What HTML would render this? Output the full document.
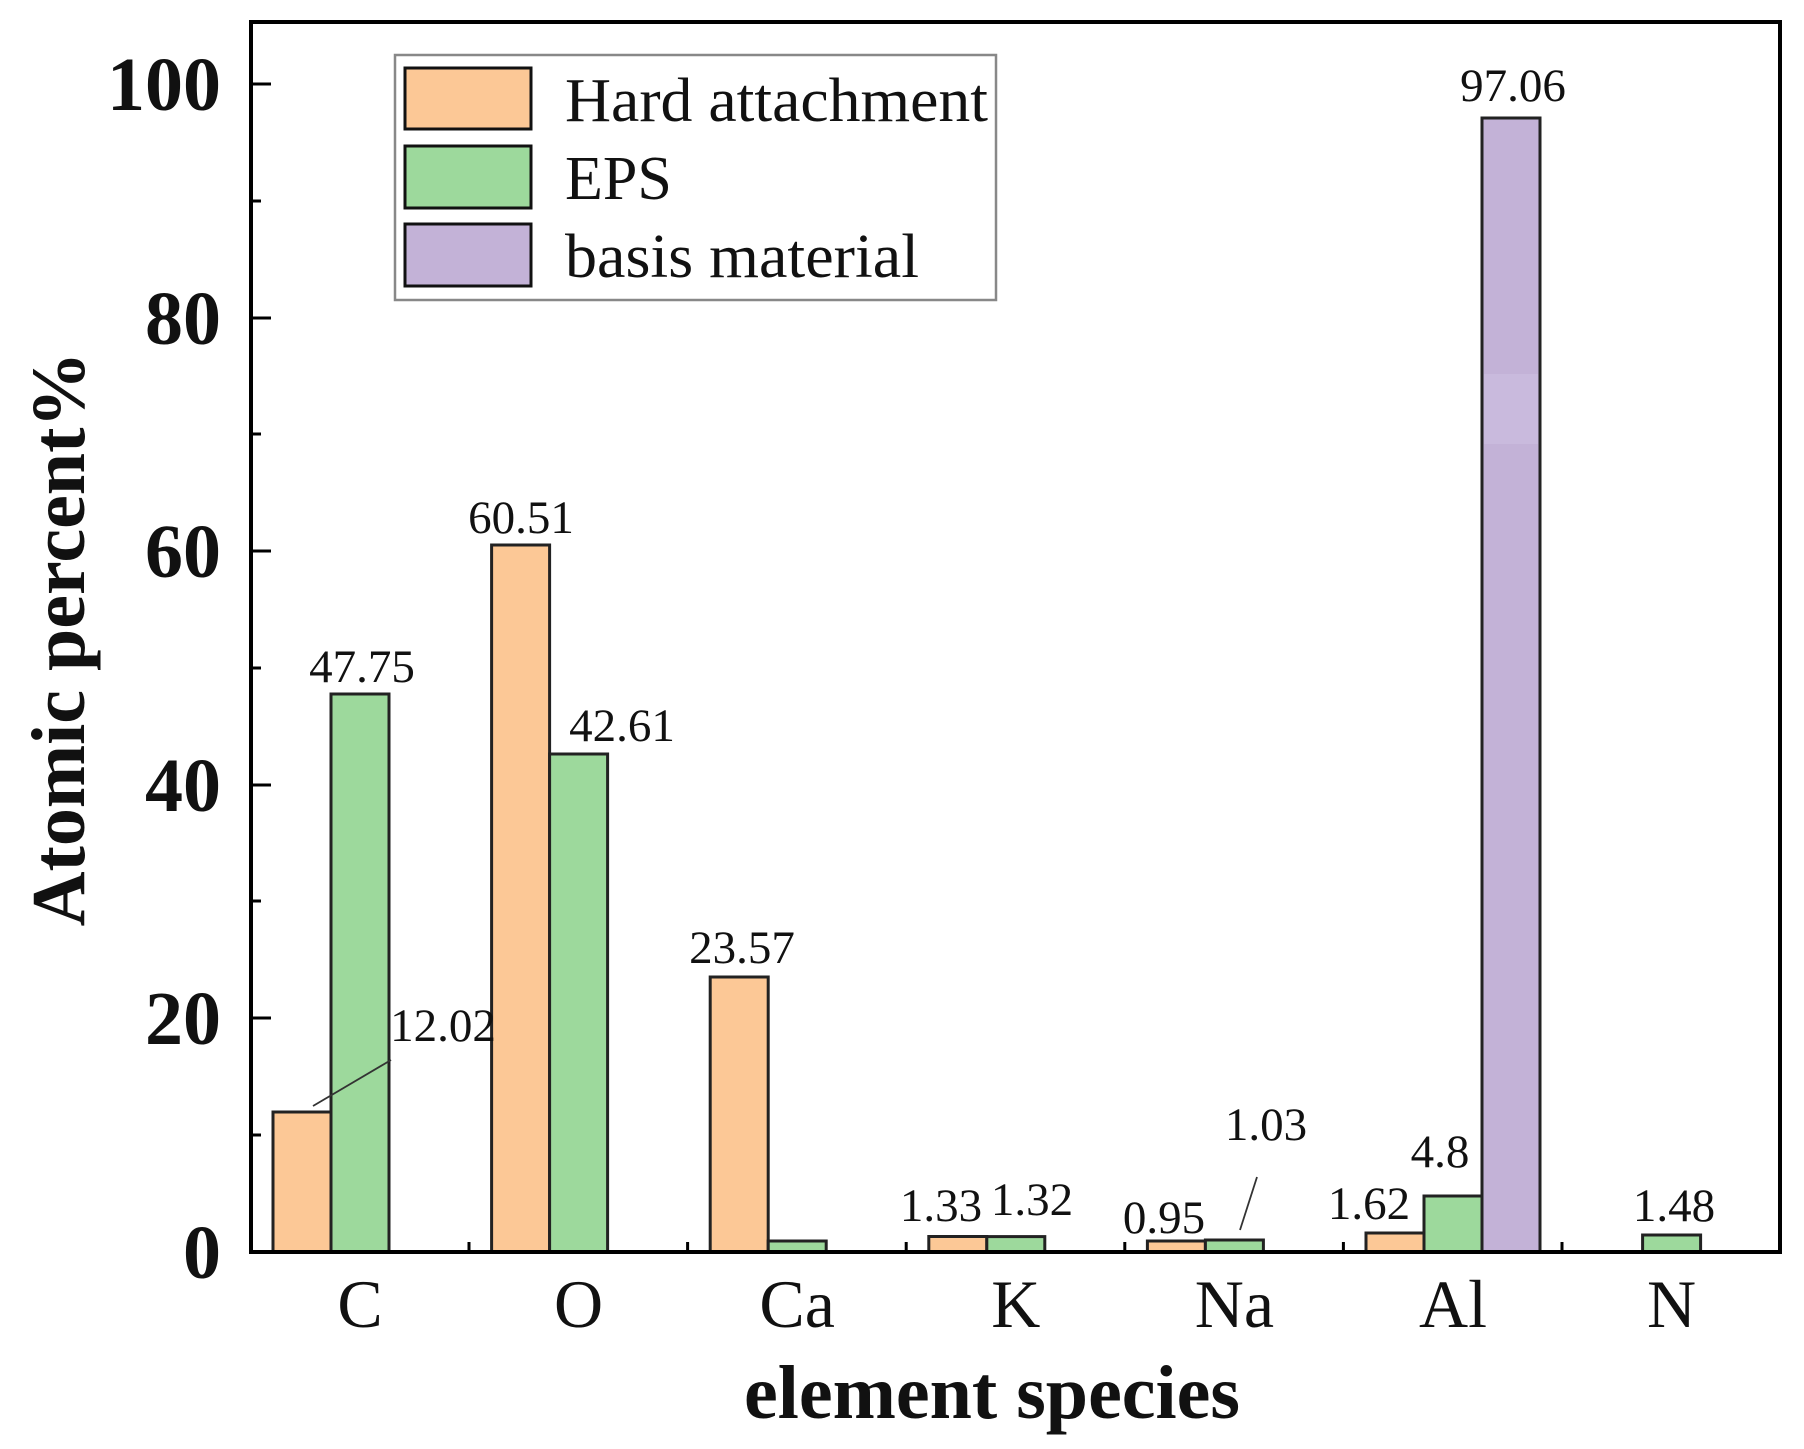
<!DOCTYPE html>
<html><head><meta charset="utf-8"><style>
html,body{margin:0;padding:0;background:#fff;}
svg{display:block;}
text{font-family:"Liberation Serif",serif;fill:#111;}
</style></head><body>
<svg width="1804" height="1449" viewBox="0 0 1804 1449" xmlns="http://www.w3.org/2000/svg">
<g stroke="#222" stroke-width="3">
<rect x="273" y="1112" width="58" height="140" fill="#FCC896"/>
<rect x="331" y="694" width="58" height="558" fill="#9DD99C"/>
<rect x="491.6" y="545" width="58" height="707" fill="#FCC896"/>
<rect x="549.6" y="754" width="58" height="498" fill="#9DD99C"/>
<rect x="710.2" y="977" width="58" height="275" fill="#FCC896"/>
<rect x="768.2" y="1241" width="58" height="11" fill="#9DD99C"/>
<rect x="928.8" y="1236.5" width="58" height="15.5" fill="#FCC896"/>
<rect x="986.8" y="1236.6" width="58" height="15.4" fill="#9DD99C"/>
<rect x="1147.4" y="1241" width="58" height="11" fill="#FCC896"/>
<rect x="1205.4" y="1240" width="58" height="12" fill="#9DD99C"/>
<rect x="1366" y="1233" width="58" height="19" fill="#FCC896"/>
<rect x="1424" y="1196" width="58" height="56" fill="#9DD99C"/>
<rect x="1482" y="118" width="58" height="1134" fill="#C3B2D7"/>
<rect x="1642.6" y="1235" width="58" height="17" fill="#9DD99C"/>
</g>
<rect x="1484" y="374" width="54" height="70" fill="#CCBDDF" opacity="0.7"/>
<rect x="251" y="22" width="1529" height="1230" fill="none" stroke="#000" stroke-width="4"/>
<g stroke="#000" stroke-width="3">
<line x1="251" y1="1252" x2="271" y2="1252"/>
<line x1="251" y1="1018" x2="271" y2="1018"/>
<line x1="251" y1="785" x2="271" y2="785"/>
<line x1="251" y1="551" x2="271" y2="551"/>
<line x1="251" y1="318" x2="271" y2="318"/>
<line x1="251" y1="84" x2="271" y2="84"/>
<line x1="251" y1="1135" x2="261" y2="1135"/>
<line x1="251" y1="901" x2="261" y2="901"/>
<line x1="251" y1="668" x2="261" y2="668"/>
<line x1="251" y1="434" x2="261" y2="434"/>
<line x1="251" y1="201" x2="261" y2="201"/>
<line x1="469" y1="1252" x2="469" y2="1242"/>
<line x1="687.6" y1="1252" x2="687.6" y2="1242"/>
<line x1="906.2" y1="1252" x2="906.2" y2="1242"/>
<line x1="1124.8" y1="1252" x2="1124.8" y2="1242"/>
<line x1="1343.4" y1="1252" x2="1343.4" y2="1242"/>
<line x1="1562" y1="1252" x2="1562" y2="1242"/>
</g>
<g font-weight="bold" font-size="76" text-anchor="end">
<text x="221" y="1278">0</text>
<text x="221" y="1044">20</text>
<text x="221" y="811">40</text>
<text x="221" y="577">60</text>
<text x="221" y="344">80</text>
<text x="221" y="110">100</text>
</g>
<g font-size="68" text-anchor="middle">
<text x="360" y="1327">C</text>
<text x="578.6" y="1327">O</text>
<text x="797.2" y="1327">Ca</text>
<text x="1015.8" y="1327">K</text>
<text x="1234.4" y="1327">Na</text>
<text x="1453" y="1327">Al</text>
<text x="1671.6" y="1327">N</text>
</g>
<text x="992" y="1418" font-size="76" font-weight="bold" text-anchor="middle">element species</text>
<text transform="translate(84,639) rotate(-90)" font-size="76" font-weight="bold" text-anchor="middle">Atomic percent%</text>
<g font-size="47" text-anchor="middle">
<text x="362" y="682">47.75</text>
<text x="443" y="1041">12.02</text>
<text x="521" y="533">60.51</text>
<text x="622" y="741">42.61</text>
<text x="742" y="963">23.57</text>
<text x="941" y="1221">1.33</text>
<text x="1032" y="1215">1.32</text>
<text x="1164" y="1233">0.95</text>
<text x="1266" y="1140">1.03</text>
<text x="1369" y="1219">1.62</text>
<text x="1440" y="1167">4.8</text>
<text x="1513" y="101">97.06</text>
<text x="1674" y="1221">1.48</text>
</g>
<g stroke="#333" stroke-width="1.8">
<line x1="313" y1="1106" x2="391" y2="1060"/>
<line x1="1240" y1="1230" x2="1257" y2="1177"/>
</g>
<rect x="395" y="55" width="601" height="245" fill="#fff" stroke="#888" stroke-width="2.5"/>
<g stroke="#111" stroke-width="3">
<rect x="405" y="68" width="126" height="61" fill="#FCC896"/>
<rect x="405" y="146" width="126" height="62" fill="#9DD99C"/>
<rect x="405" y="224" width="126" height="62" fill="#C3B2D7"/>
</g>
<g font-size="62">
<text x="565" y="121" textLength="423" lengthAdjust="spacingAndGlyphs">Hard attachment</text>
<text x="565" y="199">EPS</text>
<text x="565" y="277" textLength="354" lengthAdjust="spacingAndGlyphs">basis material</text>
</g>
</svg>
</body></html>
